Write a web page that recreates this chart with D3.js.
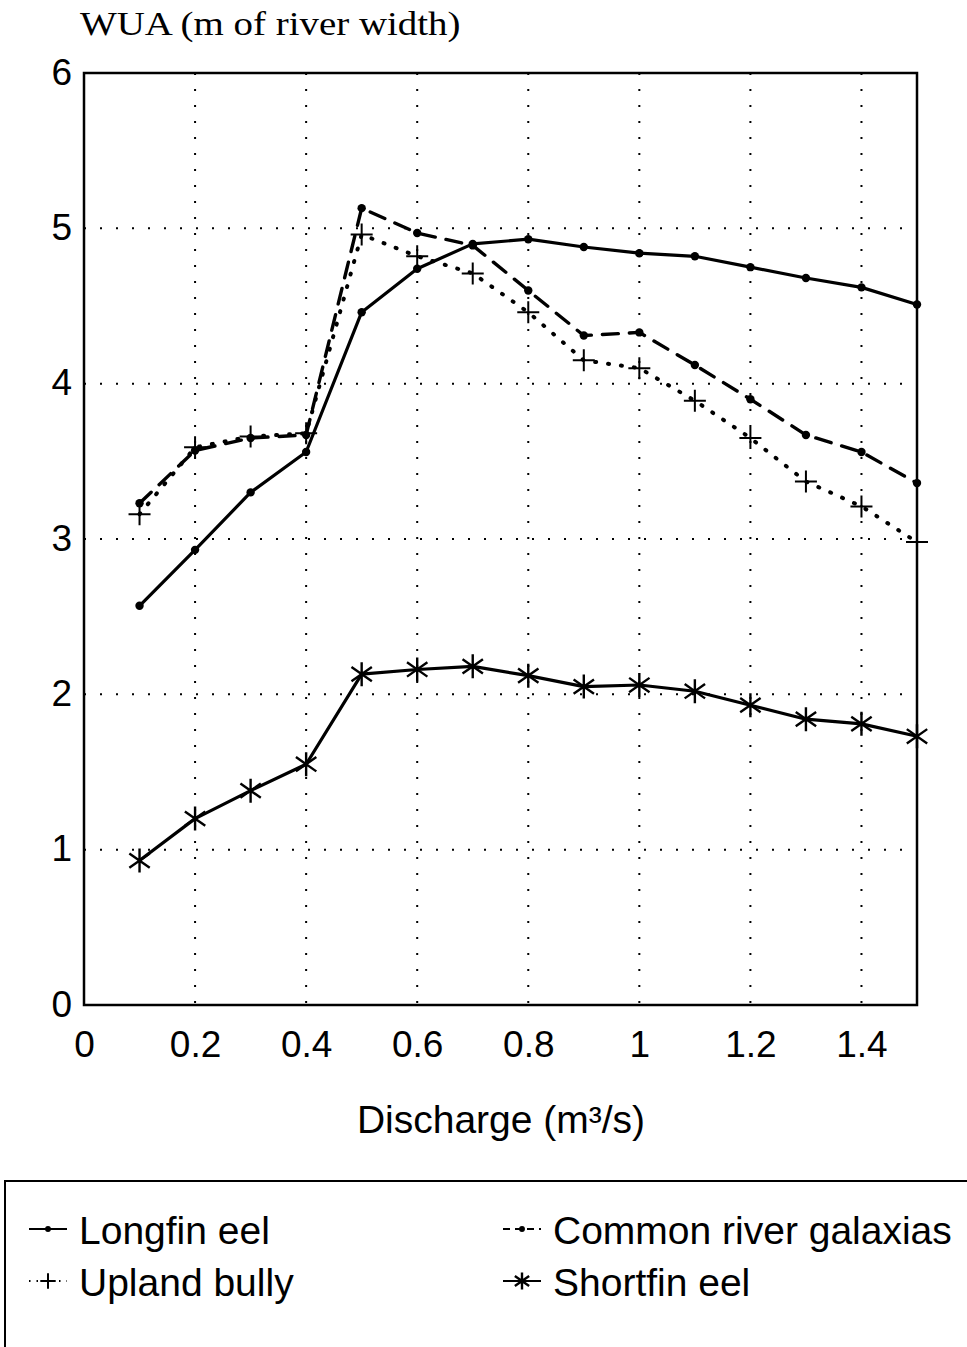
<!DOCTYPE html>
<html>
<head>
<meta charset="utf-8">
<script src="https://cdn.jsdelivr.net/npm/d3@7"></script>
<style>
  body { margin: 0; background: #fff; }
  svg { display: block; }
  .tick-label { font-family: "Liberation Sans", Arial, sans-serif; font-size: 37px; fill: #000; }
</style>
</head>
<body>
<div id="chart"></div>
<script>
// discharge values (m3/s)
const discharge = [0.1, 0.2, 0.3, 0.4, 0.5, 0.6, 0.7, 0.8, 0.9, 1.0, 1.1, 1.2, 1.3, 1.4, 1.5];
// WUA per species
const longfinEel = [2.57, 2.93, 3.30, 3.56, 4.46, 4.74, 4.90, 4.93, 4.88, 4.84, 4.82, 4.75, 4.68, 4.62, 4.51];
const commonGalaxias = [3.23, 3.57, 3.65, 3.67, 5.13, 4.97, 4.89, 4.60, 4.31, 4.33, 4.12, 3.90, 3.67, 3.56, 3.36];
const uplandBully = [3.16, 3.59, 3.66, 3.68, 4.96, 4.82, 4.71, 4.46, 4.15, 4.10, 3.89, 3.65, 3.37, 3.21, 2.98];
const shortfinEel = [0.93, 1.20, 1.38, 1.55, 2.13, 2.16, 2.18, 2.12, 2.05, 2.06, 2.02, 1.93, 1.84, 1.81, 1.73];

const xTicks = [0, 0.2, 0.4, 0.6, 0.8, 1, 1.2, 1.4];
const yTicks = [0, 1, 2, 3, 4, 5, 6];

const W = 967, H = 1347;
const plot = { left: 84, right: 917, top: 73, bottom: 1005 };

const svg = d3.select('#chart').append('svg')
  .attr('width', W)
  .attr('height', H);

const x = d3.scaleLinear().domain([0, 1.5]).range([plot.left, plot.right]);
const y = d3.scaleLinear().domain([0, 6]).range([plot.bottom, plot.top]);

// grid (dotted)
const grid = svg.append('g').attr('class', 'grid');
grid.selectAll('line.gx')
  .data(xTicks.filter(d => d > 0))
  .enter().append('line')
  .attr('x1', d => x(d)).attr('x2', d => x(d))
  .attr('y1', plot.top).attr('y2', plot.bottom)
  .attr('stroke', '#000').attr('stroke-width', 2)
  .attr('stroke-dasharray', '2,14');
grid.selectAll('line.gy')
  .data(yTicks.filter(d => d > 0 && d < 6))
  .enter().append('line')
  .attr('x1', plot.left).attr('x2', plot.right)
  .attr('y1', d => y(d)).attr('y2', d => y(d))
  .attr('stroke', '#000').attr('stroke-width', 2)
  .attr('stroke-dasharray', '2,14');

// frame
svg.append('rect')
  .attr('x', plot.left).attr('y', plot.top)
  .attr('width', plot.right - plot.left)
  .attr('height', plot.bottom - plot.top)
  .attr('fill', 'none').attr('stroke', '#000').attr('stroke-width', 2.5);

// axes
const xAxis = d3.axisBottom(x).tickValues(xTicks).tickSize(0)
  .tickFormat(d3.format('~g'));
const gx = svg.append('g')
  .attr('transform', 'translate(0,' + plot.bottom + ')')
  .call(xAxis);
gx.select('.domain').remove();
gx.selectAll('text').attr('class', 'tick-label').attr('font-size', null).attr('font-family', null)
  .attr('y', 52).attr('dy', null);

const yAxis = d3.axisLeft(y).tickValues(yTicks).tickSize(0).tickPadding(12)
  .tickFormat(d3.format('~g'));
const gy = svg.append('g')
  .attr('transform', 'translate(' + plot.left + ',0)')
  .call(yAxis);
gy.select('.domain').remove();
gy.selectAll('text').attr('class', 'tick-label').attr('font-size', null).attr('font-family', null)
  .attr('dy', '0.3em');

// axis titles
svg.append('text')
  .attr('transform', 'translate(80,35) scale(1.18,1)')
  .attr('font-family', '"Liberation Serif", "Times New Roman", serif')
  .attr('font-size', 33)
  .text('WUA (m of river width)');

svg.append('text')
  .attr('x', 501).attr('y', 1133)
  .attr('text-anchor', 'middle')
  .attr('font-family', '"Liberation Sans", Arial, sans-serif')
  .attr('font-size', 39)
  .text('Discharge (m³/s)');

// series
const series = [
  { name: 'Longfin eel', values: longfinEel, dash: null, width: 3.2, marker: 'dot' },
  { name: 'Common river galaxias', values: commonGalaxias, dash: '16,11', width: 3.4, marker: 'dot' },
  { name: 'Upland bully', values: uplandBully, dash: '1,12', width: 4, marker: 'plus' },
  { name: 'Shortfin eel', values: shortfinEel, dash: null, width: 3.2, marker: 'star' }
];

const line = d3.line()
  .x(d => x(d[0]))
  .y(d => y(d[1]));

function drawMarker(g, type, cx, cy, scale) {
  const s = scale || 1;
  if (type === 'dot') {
    g.append('circle').attr('cx', cx).attr('cy', cy).attr('r', 4.2 * s).attr('fill', '#000');
  } else if (type === 'plus') {
    const a = 11 * s;
    g.append('path')
      .attr('d', 'M' + (cx - a) + ',' + cy + 'H' + (cx + a) + 'M' + cx + ',' + (cy - a) + 'V' + (cy + a))
      .attr('stroke', '#000').attr('stroke-width', 2).attr('fill', 'none');
  } else if (type === 'star') {
    const a = 12 * s, b = a * 0.85;
    g.append('path')
      .attr('d', 'M' + cx + ',' + (cy - a) + 'V' + (cy + a) +
        'M' + (cx - b) + ',' + (cy - b * 0.7) + 'L' + (cx + b) + ',' + (cy + b * 0.7) +
        'M' + (cx - b) + ',' + (cy + b * 0.7) + 'L' + (cx + b) + ',' + (cy - b * 0.7))
      .attr('stroke', '#000').attr('stroke-width', 2.4).attr('fill', 'none');
  }
}

const gs = svg.append('g').attr('class', 'series');
series.forEach(s => {
  const pts = discharge.map((d, i) => [d, s.values[i]]);
  gs.append('path')
    .datum(pts)
    .attr('d', line)
    .attr('fill', 'none')
    .attr('stroke', '#000')
    .attr('stroke-width', s.width)
    .attr('stroke-linecap', 'round')
    .attr('stroke-linejoin', 'round')
    .attr('stroke-dasharray', s.dash);
  const mg = gs.append('g');
  pts.forEach(p => drawMarker(mg, s.marker, x(p[0]), y(p[1])));
});

// legend
const lg = svg.append('g').attr('class', 'legend');
lg.append('path')
  .attr('d', 'M5,' + H + 'V1181H' + W)
  .attr('fill', 'none').attr('stroke', '#000').attr('stroke-width', 2);

const legendPos = [
  { x: 79, y: 1244 }, { x: 553, y: 1244 },
  { x: 79, y: 1296 }, { x: 553, y: 1296 }
];
series.forEach((s, i) => {
  const p = legendPos[i];
  const sx = p.x - 50, sy = p.y - 15;
  lg.append('line')
    .attr('x1', sx).attr('x2', sx + 38)
    .attr('y1', sy).attr('y2', sy)
    .attr('stroke', '#000').attr('stroke-width', 2)
    .attr('stroke-dasharray', s.dash ? (s.marker === 'plus' ? '1.5,6' : '7,5') : null);
  drawMarker(lg, s.marker, sx + 19, sy, 0.7);
  lg.append('text')
    .attr('x', p.x).attr('y', p.y)
    .attr('font-family', '"Liberation Sans", Arial, sans-serif')
    .attr('font-size', 39)
    .text(s.name);
});
</script>
</body>
</html>
